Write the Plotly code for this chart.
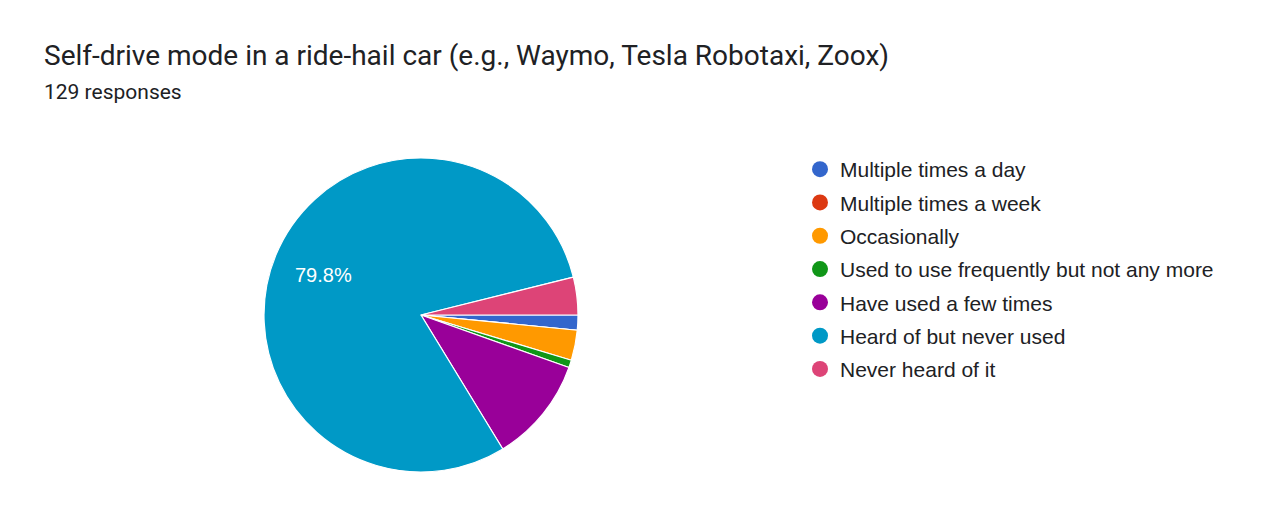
import math
from plotly import graph_objects as go

# 问卷数据（129 份回答）
labels = ['Multiple times a day', 'Multiple times a week', 'Occasionally',
          'Used to use frequently but not any more', 'Have used a few times',
          'Heard of but never used', 'Never heard of it']
counts = [2, 0, 4, 1, 14, 103, 5]
colors = ['#3366cc', '#dc3912', '#ff9900', '#109618', '#990099', '#0099c6', '#dd4477']

W, H = 1280, 527
OFF = 8  # 页面 body 默认 8px 边距，整体往左上挪
cx, cy, R = 421 - OFF, 315 - OFF, 157

total = sum(counts)

fig = go.Figure()
fig.add_trace(go.Pie(
    labels=labels,
    values=counts,
    textinfo='none',
    marker=dict(colors=colors, line=dict(color='white', width=1.2)),
    sort=False,
    direction='clockwise',
    rotation=90,
    showlegend=False,
    domain=dict(x=[(cx - R) / W, (cx + R) / W], y=[(H - cy - R) / H, (H - cy + R) / H]),
))

# 百分比标签：只给大扇区，位置按扇区中线算
annos = []
cum = 0
for c in counts:
    frac = c / total
    if frac > 0.2:
        mid = (cum + frac / 2) * 2 * math.pi
        tx = cx + 0.67 * R * math.cos(mid)
        ty = cy + 0.67 * R * math.sin(mid)
        annos.append(dict(text='%.1f%%' % (frac * 100), x=tx / W, y=1 - ty / H,
                          xref='paper', yref='paper', xanchor='center', yanchor='middle',
                          showarrow=False,
                          font=dict(family='Liberation Sans, Arial', size=20, color='white')))
    cum += frac

# 圆形图例：用空散点伪造
for name, c in zip(labels, colors):
    fig.add_trace(go.Scatter(
        x=[None], y=[None], mode='markers', name=name, legendgroup=name,
        marker=dict(color=c, size=20, symbol='circle'),
    ))

annos += [
    dict(text='Self-drive mode in a ride-hail car (e.g., Waymo, Tesla Robotaxi, Zoox)',
         x=(42 - OFF) / W, y=1 - (55 - OFF) / H, xref='paper', yref='paper', xanchor='left', yanchor='middle',
         showarrow=False, font=dict(family='Roboto', size=28, color='#202124')),
    dict(text='129 responses',
         x=(42 - OFF) / W, y=1 - (92 - OFF) / H, xref='paper', yref='paper', xanchor='left', yanchor='middle',
         showarrow=False, font=dict(family='Roboto', size=21, color='#202124')),
]

fig.update_layout(
    width=W, height=H,
    margin=dict(l=0, r=0, t=0, b=0),
    paper_bgcolor='white',
    plot_bgcolor='white',
    xaxis=dict(visible=False),
    yaxis=dict(visible=False),
    legend=dict(
        x=(800 - OFF) / W, y=1 - (149 - OFF) / H, xanchor='left', yanchor='top',
        font=dict(family='Liberation Sans, Arial', size=21, color='#202124'),
        itemsizing='trace', tracegroupgap=3,
        bgcolor='rgba(0,0,0,0)',
    ),
    annotations=annos,
)

fig.write_html("out.html")
